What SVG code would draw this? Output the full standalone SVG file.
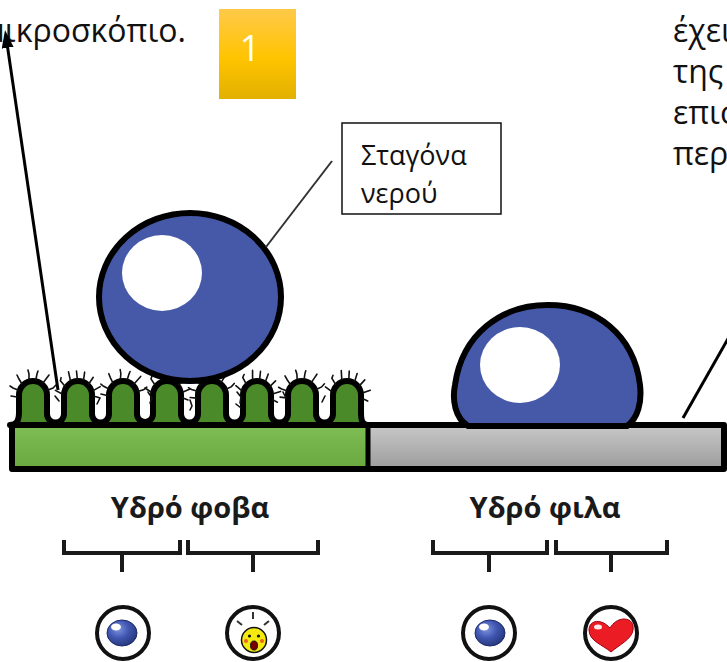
<svg xmlns="http://www.w3.org/2000/svg" xmlns:xlink="http://www.w3.org/1999/xlink" width="727" height="662" viewBox="0 0 727 662">
  <style>
    .body { font-family: "Open Sans", "Noto Sans", sans-serif; font-size: 32px; fill: #111; }
    .note { font-family: "Open Sans", "Noto Sans", sans-serif; font-size: 27px; fill: #111; }
    .label { font-family: "Open Sans", "Noto Sans", sans-serif; font-size: 29px; font-weight: bold; fill: #1a1a1a; text-anchor: middle; }
    .outline { stroke: #000; stroke-width: 6; stroke-linejoin: round; }
    .bracket { fill: none; stroke: #1a1a1a; stroke-width: 4; }
    .ring { fill: #fff; stroke: #111; stroke-width: 4; }
    .hair { fill: none; stroke: #111; stroke-width: 1.6; stroke-linecap: round; }
    .drop { fill: #4659a8; stroke: #000; stroke-width: 6; }
    .shine { fill: #fff; }
  </style>
  <defs>
    <linearGradient id="gold" x1="0" y1="0" x2="0" y2="1">
      <stop offset="0" stop-color="#ffc94a"/>
      <stop offset="0.55" stop-color="#ffc400"/>
      <stop offset="1" stop-color="#e2b000"/>
    </linearGradient>
    <linearGradient id="grass" x1="0" y1="0" x2="0" y2="1">
      <stop offset="0" stop-color="#7fbd55"/>
      <stop offset="1" stop-color="#68a83e"/>
    </linearGradient>
    <linearGradient id="steel" x1="0" y1="0" x2="0" y2="1">
      <stop offset="0" stop-color="#c8c8c8"/>
      <stop offset="1" stop-color="#9c9c9c"/>
    </linearGradient>
    <radialGradient id="bead" cx="0.38" cy="0.35" r="0.7">
      <stop offset="0" stop-color="#7f93e0"/>
      <stop offset="0.5" stop-color="#3f56b0"/>
      <stop offset="1" stop-color="#27367a"/>
    </radialGradient>
    <marker id="arrowhead" markerUnits="userSpaceOnUse" viewBox="0 0 18 12" markerWidth="18" markerHeight="12" refX="12" refY="6" orient="auto">
      <path d="M0,0 L18,6 L0,12 z" fill="#000"/>
    </marker>
    <!-- tufts of fine hairs around one finger top; origin = arc centre -->
    <path id="tuft" class="hair" d="M-15,-5 l-5,-2 l-3,-2 M-11,-11 l-3,-5 l-2,-4 M-4,-16 l0,-5 l-1,-4 M3,-16 l1,-5 l1,-3 M10,-12 l3,-4 l3,-4 M15,-5 l5,-2 l3,-3 M-16,2 l-6,-1"/>
    <path id="tuft2" class="hair" d="M-16,-3 l-6,-4 M-12,-10 l-4,-6 l1,-3 M-6,-15 l-1,-9 M1,-16 l0,-8 M7,-14 l2,-8 M12,-10 l5,-6 M16,-3 l7,-3 M16,3 l5,2"/>
  </defs>

  <!-- caption fragments -->
  <g id="caption-left">
    <text class="body" x="-15" y="42">μικροσκόπιο.</text>
  </g>
  <g id="caption-right">
    <text class="body" x="673" y="42">έχει</text>
    <text class="body" x="673" y="83">της</text>
    <text class="body" x="673" y="124">επισ</text>
    <text class="body" x="673" y="165">περ</text>
  </g>

  <!-- numbered badge -->
  <g id="badge">
    <rect x="219" y="9" width="77" height="90" fill="url(#gold)"/>
    <text x="250" y="61" font-family="'Open Sans', 'Noto Sans', sans-serif" font-size="36" fill="#fff" text-anchor="middle">1</text>
  </g>

  <!-- water-drop callout -->
  <g id="callout">
    <rect x="342" y="123" width="159" height="91" fill="#fff" stroke="#111" stroke-width="1.5"/>
    <text class="note" x="361" y="165">Σταγόνα</text>
    <text class="note" x="361" y="203">νερού</text>
  </g>

  <!-- water-repellent (textured) surface -->
  <g id="surface-phobic">
    <rect x="12" y="425" width="356" height="44" fill="url(#grass)"/>
    <path class="outline" fill="#4a8a28" stroke-width="6.5" d="M10 425 C17 425 19 420 19 412 L19 395 A14 14 0 0 1 47 395 L47 414 A8.5 8.5 0 0 0 64 414 L64 395 A14 14 0 0 1 92 395 L92 414 A8.5 8.5 0 0 0 109 414 L109 395 A14 14 0 0 1 137 395 L137 414 A8 8 0 0 0 153 414 L153 395 A14 14 0 0 1 181 395 L181 414 A8.5 8.5 0 0 0 198 414 L198 395 A14 14 0 0 1 226 395 L226 414 A8.5 8.5 0 0 0 243 414 L243 395 A14 14 0 0 1 271 395 L271 414 A8.5 8.5 0 0 0 288 414 L288 395 A14 14 0 0 1 316 395 L316 414 A8.5 8.5 0 0 0 333 414 L333 395 A14 14 0 0 1 361 395 L361 412 C361 420 362 425 368 425 Z"/>
    <g id="hairs">
      <use xlink:href="#tuft" transform="translate(33 395)"/>
      <use xlink:href="#tuft2" transform="translate(78 395) rotate(-6)"/>
      <use xlink:href="#tuft" transform="translate(123 395) rotate(5)"/>
      <use xlink:href="#tuft2" transform="translate(167 395)"/>
      <use xlink:href="#tuft" transform="translate(212 395) rotate(-4)"/>
      <use xlink:href="#tuft2" transform="translate(257 395) rotate(6)"/>
      <use xlink:href="#tuft" transform="translate(302 395) rotate(-3)"/>
      <use xlink:href="#tuft2" transform="translate(347 395) rotate(3)"/>
      <path class="hair" d="M148 392 l4 6 l-2 5 M237 392 l4 5 l-1 6 M236 404 l5 4 M283 392 l3 6 M55 396 l4 5 M100 398 l-3 6 M190 400 l2 6 l-2 4 M325 396 l-3 6"/>
    </g>
  </g>

  <!-- water-attracting (smooth) surface -->
  <g id="surface-philic">
    <rect x="370" y="425" width="354" height="44" fill="url(#steel)"/>
  </g>

  <!-- substrate frame -->
  <g id="substrate-frame">
    <rect x="12" y="425" width="712" height="44" fill="none" class="outline"/>
    <line x1="368" y1="425" x2="368" y2="469" stroke="#000" stroke-width="5"/>
  </g>

  <!-- beaded drop on the textured surface -->
  <g id="drop-round">
    <ellipse class="drop" cx="190" cy="297" rx="91" ry="84"/>
    <ellipse class="shine" cx="162" cy="273" rx="40" ry="38"/>
  </g>

  <!-- spread drop on the smooth surface -->
  <g id="drop-flat">
    <path class="drop" d="M468 426 C455 418 452 400 455 385 C462 335 500 305 548 305 C596 305 634 335 640 385 C642 402 638 418 627 426 Z"/>
    <ellipse class="shine" cx="520" cy="365" rx="40" ry="38"/>
  </g>

  <!-- connectors -->
  <g id="connectors">
    <line x1="58" y1="390" x2="5.9" y2="35.9" stroke="#000" stroke-width="3" marker-end="url(#arrowhead)"/>
    <line x1="266" y1="247" x2="332" y2="161" stroke="#333" stroke-width="2"/>
    <line x1="683" y1="418" x2="729" y2="337" stroke="#000" stroke-width="3"/>
  </g>

  <!-- category labels -->
  <g id="label-phobic">
    <text class="label" x="190" y="518">Υδρό φοβα</text>
    <path class="bracket" d="M64 540 V553 H180 V540 M122 553 V572"/>
    <path class="bracket" d="M188 540 V553 H318 V540 M253 553 V572"/>
  </g>
  <g id="label-philic">
    <text class="label" x="545" y="518">Υδρό φιλα</text>
    <path class="bracket" d="M433 540 V553 H547 V540 M489 553 V572"/>
    <path class="bracket" d="M556 540 V553 H667 V540 M611 553 V572"/>
  </g>

  <!-- icons -->
  <g id="icon-bead-1">
    <circle class="ring" cx="123" cy="633" r="26"/>
    <ellipse cx="122" cy="633" rx="15" ry="13" fill="url(#bead)" stroke="#1c2a66" stroke-width="1"/>
    <ellipse cx="116" cy="627" rx="5" ry="3.5" fill="#fff"/>
  </g>
  <g id="icon-scared">
    <circle class="ring" cx="253" cy="633" r="26"/>
    <path d="M253 612 V619 M237 621 L242 625 M269 621 L264 625" stroke="#333" stroke-width="2"/>
    <circle cx="254" cy="640" r="12.5" fill="#f2ea10" stroke="#111" stroke-width="1.5"/>
    <circle cx="249.5" cy="636" r="1.6" fill="#111"/>
    <circle cx="258.5" cy="636" r="1.6" fill="#111"/>
    <circle cx="246" cy="641" r="2" fill="#f04020" opacity="0.8"/>
    <circle cx="262" cy="641" r="2" fill="#f04020" opacity="0.8"/>
    <ellipse cx="254" cy="645.5" rx="3.5" ry="4.5" fill="#7a0000" stroke="#111" stroke-width="1"/>
  </g>
  <g id="icon-bead-2">
    <circle class="ring" cx="489" cy="633" r="26"/>
    <ellipse cx="490" cy="633" rx="15" ry="13" fill="url(#bead)" stroke="#1c2a66" stroke-width="1"/>
    <ellipse cx="484" cy="627" rx="5" ry="3.5" fill="#fff"/>
  </g>
  <g id="icon-heart">
    <circle class="ring" cx="611" cy="633" r="26"/>
    <path d="M611 652 C603 645 589 641 589 630 C589 623 595 620 601 622 C605 623 608 626 610 628 C613 623 618 619 624 619 C631 619 634 624 633 630 C632 639 619 645 611 652 Z" fill="#ec1c24" stroke="#a00010" stroke-width="1"/>
    <ellipse cx="598" cy="627" rx="4" ry="2.5" fill="#fff" opacity="0.9"/>
  </g>
</svg>
